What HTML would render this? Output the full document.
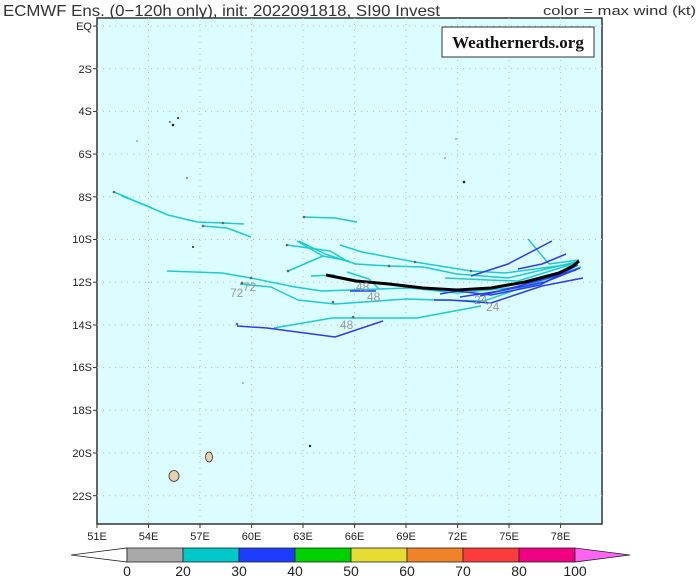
<!DOCTYPE html>
<html><head><style>
html,body{margin:0;padding:0;background:#fff;}
svg{display:block;font-family:"Liberation Sans",sans-serif;}
</style></head><body>
<svg width="699" height="578" viewBox="0 0 699 578" xmlns="http://www.w3.org/2000/svg">
<text x="3" y="16" font-size="16" fill="#333" textLength="437" lengthAdjust="spacingAndGlyphs">ECMWF Ens. (0−120h only), init: 2022091818, SI90 Invest</text>
<text x="543" y="15" font-size="12.5" fill="#333" textLength="153" lengthAdjust="spacingAndGlyphs">color = max wind (kt)</text>
<rect x="97" y="18" width="505" height="506" fill="#dcfdff" stroke="#333" stroke-width="1.5"/>
<g stroke="#b4bcbc" stroke-width="1" stroke-dasharray="1,5">
<line x1="148.5" y1="18" x2="148.5" y2="524"/><line x1="200" y1="18" x2="200" y2="524"/><line x1="251.6" y1="18" x2="251.6" y2="524"/><line x1="303" y1="18" x2="303" y2="524"/><line x1="354.6" y1="18" x2="354.6" y2="524"/><line x1="406" y1="18" x2="406" y2="524"/><line x1="457.6" y1="18" x2="457.6" y2="524"/><line x1="509" y1="18" x2="509" y2="524"/><line x1="560.6" y1="18" x2="560.6" y2="524"/>
<line x1="97" y1="26" x2="602" y2="26"/><line x1="97" y1="68.7" x2="602" y2="68.7"/><line x1="97" y1="111.4" x2="602" y2="111.4"/><line x1="97" y1="154" x2="602" y2="154"/><line x1="97" y1="196.8" x2="602" y2="196.8"/><line x1="97" y1="239.5" x2="602" y2="239.5"/><line x1="97" y1="282.2" x2="602" y2="282.2"/><line x1="97" y1="325" x2="602" y2="325"/><line x1="97" y1="367.6" x2="602" y2="367.6"/><line x1="97" y1="410.3" x2="602" y2="410.3"/><line x1="97" y1="453" x2="602" y2="453"/><line x1="97" y1="495.7" x2="602" y2="495.7"/>
</g>
<g font-size="11" fill="#222" text-anchor="end">
<text x="92" y="30">EQ</text><text x="92" y="73">2S</text><text x="92" y="115">4S</text><text x="92" y="158">6S</text><text x="92" y="201">8S</text><text x="92" y="243">10S</text><text x="92" y="286">12S</text><text x="92" y="329">14S</text><text x="92" y="371">16S</text><text x="92" y="414">18S</text><text x="92" y="457">20S</text><text x="92" y="500">22S</text>
</g>
<g stroke="#333" stroke-width="1">
<line x1="93" y1="26" x2="97" y2="26"/><line x1="93" y1="68.7" x2="97" y2="68.7"/><line x1="93" y1="111.4" x2="97" y2="111.4"/><line x1="93" y1="154" x2="97" y2="154"/><line x1="93" y1="196.8" x2="97" y2="196.8"/><line x1="93" y1="239.5" x2="97" y2="239.5"/><line x1="93" y1="282.2" x2="97" y2="282.2"/><line x1="93" y1="325" x2="97" y2="325"/><line x1="93" y1="367.6" x2="97" y2="367.6"/><line x1="93" y1="410.3" x2="97" y2="410.3"/><line x1="93" y1="453" x2="97" y2="453"/><line x1="93" y1="495.7" x2="97" y2="495.7"/>
<line x1="97" y1="524" x2="97" y2="528"/><line x1="148.5" y1="524" x2="148.5" y2="528"/><line x1="200" y1="524" x2="200" y2="528"/><line x1="251.6" y1="524" x2="251.6" y2="528"/><line x1="303" y1="524" x2="303" y2="528"/><line x1="354.6" y1="524" x2="354.6" y2="528"/><line x1="406" y1="524" x2="406" y2="528"/><line x1="457.6" y1="524" x2="457.6" y2="528"/><line x1="509" y1="524" x2="509" y2="528"/><line x1="560.6" y1="524" x2="560.6" y2="528"/>
</g>
<g font-size="11" fill="#222" text-anchor="middle">
<text x="97" y="540">51E</text><text x="148.5" y="540">54E</text><text x="200" y="540">57E</text><text x="251.6" y="540">60E</text><text x="303" y="540">63E</text><text x="354.6" y="540">66E</text><text x="406" y="540">69E</text><text x="457.6" y="540">72E</text><text x="509" y="540">75E</text><text x="560.6" y="540">78E</text>
</g>
<ellipse cx="174" cy="476" rx="5" ry="5.5" fill="#eacfb0" stroke="#333" stroke-width="0.8"/>
<ellipse cx="209" cy="457" rx="3.5" ry="5" fill="#eacfb0" stroke="#333" stroke-width="0.8"/>
<g fill="#222"><circle cx="173" cy="125" r="1.3"/><circle cx="178" cy="118" r="1"/><circle cx="170" cy="122" r="0.8"/><circle cx="464" cy="182" r="1.3"/><circle cx="310" cy="446" r="1.2"/><circle cx="193" cy="247" r="1"/><circle cx="187" cy="178" r="0.7"/><circle cx="137" cy="141" r="0.6"/><circle cx="445" cy="158" r="0.6"/><circle cx="456" cy="139" r="0.6"/><circle cx="243" cy="383" r="0.6"/></g>
<g fill="none" stroke-width="1.5" stroke-linejoin="round">
<g stroke="#1ccbcb">
<polyline points="114,192 168,215 197,222 223,223 244,224"/>
<polyline points="122,196 152,208"/>
<polyline points="203,226 227,228 251,237"/>
<polyline points="304,217 335,218 357,222"/>
<polyline points="287,245 330,251 347,261"/>
<polyline points="297,241 323,256 349,261"/>
<polyline points="288,271 323,256"/>
<polyline points="340,245 362,252 415,262 471,271 505,273 572,264"/>
<polyline points="299,241 325,254 356,264 389,266 423,267 457,274 508,278 576,262"/>
<polyline points="528,239 549,264 579,260"/>
<polyline points="445,278 488,280 518,281 579,262"/>
<polyline points="347,272 369,279 379,289"/>
<polyline points="311,276 335,275"/>
<polyline points="167,271 222,273 251,278 295,287 322,291 379,289 410,288 457,293 540,285 577,263"/>
<polyline points="240,284 271,287 298,300 335,304 406,299 437,300 484,301 581,267"/>
<polyline points="274,328 332,318 417,318 481,306"/>
</g>
<g stroke="#2c3cf0">
<polyline points="471,276 508,264 552,241"/>
<polyline points="518,269 542,264 566,254"/>
<polyline points="440,294 457,291 491,295 540,285 578,265"/>
<polyline points="434,300 450,300 491,303 542,286 583,278"/>
<polyline points="460,297 500,291 545,282 580,268"/>
<polyline points="480,296 530,283 576,270"/>
<polyline points="237,326 267,328 335,337 383,321"/>
<polyline points="350,291 376,291"/>
</g>
<polyline stroke="#000" stroke-width="3" points="326,275 356,281 389,284 423,288 457,290 491,288 525,282 559,273 573,266 579,261"/>
</g>
<g fill="#666"><circle cx="114" cy="192" r="1.3"/><circle cx="223" cy="223" r="1.3"/><circle cx="203" cy="226" r="1.3"/><circle cx="304" cy="217" r="1.3"/><circle cx="287" cy="245" r="1.3"/><circle cx="288" cy="271" r="1.3"/><circle cx="251" cy="278" r="1.3"/><circle cx="242" cy="283" r="1.3"/><circle cx="333" cy="302" r="1.3"/><circle cx="237" cy="324" r="1.3"/><circle cx="353" cy="317" r="1.3"/><circle cx="389" cy="266" r="1.3"/><circle cx="415" cy="262" r="1.3"/><circle cx="471" cy="271" r="1.3"/></g>
<g font-size="12" fill="#999">
<text x="230" y="297">72</text><text x="243" y="291">72</text><text x="356" y="291">48</text><text x="367" y="301">48</text><text x="340" y="329">48</text><text x="474" y="304">24</text><text x="486" y="311">24</text>
</g>
<rect x="442" y="27" width="152" height="30" fill="#fff" stroke="#333" stroke-width="1"/>
<text x="518" y="48" font-family="Liberation Serif,serif" font-size="17" font-weight="bold" fill="#111" text-anchor="middle">Weathernerds.org</text>
<g stroke="#222" stroke-width="0.8">
<polygon points="71,555 127,548 127,562" fill="#fff"/>
<rect x="127" y="548" width="56" height="14" fill="#a9a9a9"/>
<rect x="183" y="548" width="56" height="14" fill="#00c8c8"/>
<rect x="239" y="548" width="56" height="14" fill="#1e3cff"/>
<rect x="295" y="548" width="56" height="14" fill="#00d200"/>
<rect x="351" y="548" width="56" height="14" fill="#e6dc32"/>
<rect x="407" y="548" width="56" height="14" fill="#f08228"/>
<rect x="463" y="548" width="56" height="14" fill="#fa3c3c"/>
<rect x="519" y="548" width="56" height="14" fill="#f00082"/>
<polygon points="575,548 630,555 575,562" fill="#ff64f0"/>
</g>
<g font-size="14" fill="#222" text-anchor="middle">
<text x="127" y="576">0</text><text x="183" y="576">20</text><text x="239" y="576">30</text><text x="295" y="576">40</text><text x="351" y="576">50</text><text x="407" y="576">60</text><text x="463" y="576">70</text><text x="519" y="576">80</text><text x="575" y="576">100</text>
</g>
</svg>
</body></html>
